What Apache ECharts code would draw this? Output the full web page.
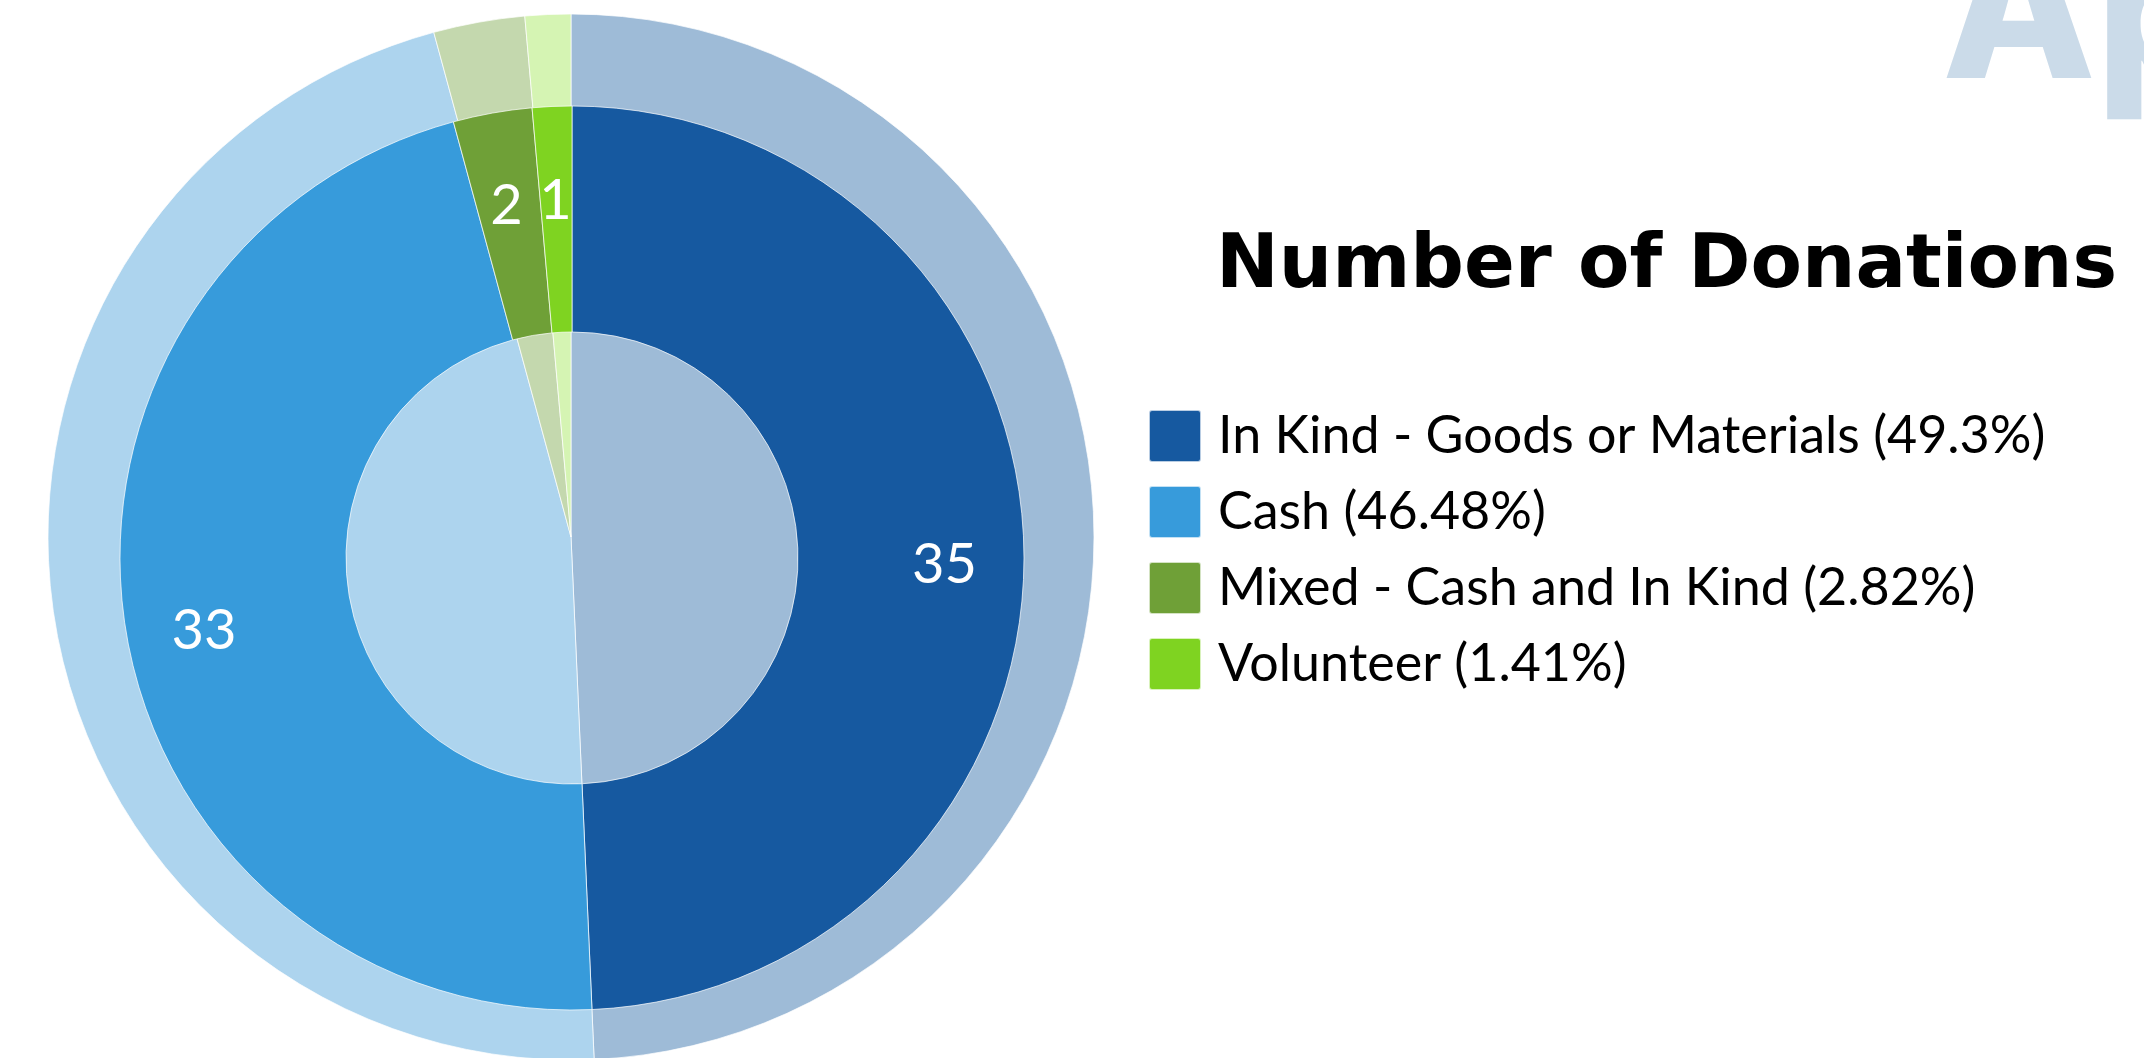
<!DOCTYPE html>
<html>
<head>
<meta charset="utf-8">
<title>Number of Donations</title>
<script src="https://cdn.jsdelivr.net/npm/echarts@6/dist/echarts.min.js"></script>
<style>
  html, body { margin: 0; padding: 0; background: #fff; }
  #chart { width: 2144px; height: 1058px; }
</style>
</head>
<body>
<div id="chart"></div>
<script>
// donation types, clockwise from 12 o'clock
const categories = ['In Kind - Goods or Materials', 'Cash', 'Mixed - Cash and In Kind', 'Volunteer'];
const counts = [35, 33, 2, 1];

const darkColors = ['#1659A0', '#379BDB', '#6FA037', '#7FD321'];
const lightColors = ['#9EBBD7', '#ADD4EE', '#C4D8AE', '#D5F4B3'];

const total = counts.reduce((a, b) => a + b, 0);
const pct = (v) => Number((v / total * 100).toFixed(2));

const chart = echarts.init(document.getElementById('chart'), null, { renderer: 'canvas' });

const option = {
  backgroundColor: '#fff',
  animation: false,
  graphic: [
    // faded heading cut off by the top edge
    {
      type: 'text',
      left: 1942,
      top: -82,
      silent: true,
      style: {
        text: 'Ap',
        fill: '#CBDBE9',
        font: '800 200px Inter'
      }
    },
    {
      type: 'text',
      left: 1216,
      top: 230,
      silent: true,
      style: {
        text: 'Number of Donations',
        fill: '#000',
        font: 'bold 75px "DejaVu Sans"'
      }
    }
  ],
  legend: {
    orient: 'vertical',
    left: 1143,
    top: 404,
    icon: 'path://M3,0 H49 Q52,0 52,3 V49 Q52,52 49,52 H3 Q0,52 0,49 V3 Q0,0 3,0 Z',
    itemWidth: 52,
    itemHeight: 52,
    itemGap: 22,
    selectedMode: false,
    textStyle: {
      fontFamily: 'Lato',
      fontSize: 52,
      lineHeight: 48,
      color: '#000',
      padding: [4, 0, 0, 12]
    },
    data: categories.map((name, i) => ({ name: name, itemStyle: { color: darkColors[i] } })),
    formatter: (name) => {
      const i = categories.indexOf(name);
      return name + ' (' + pct(counts[i]) + '%)';
    }
  },
  series: [
    // pale full pie underneath
    {
      type: 'pie',
      z: 1,
      silent: true,
      center: [571, 537],
      radius: 523,
      startAngle: 90,
      label: { show: false },
      labelLine: { show: false },
      itemStyle: { borderColor: 'rgba(255,255,255,0.7)', borderWidth: 1 },
      data: categories.map((name, i) => ({
        name: name,
        value: counts[i],
        itemStyle: { color: lightColors[i] }
      }))
    },
    // main donut ring
    {
      type: 'pie',
      z: 2,
      silent: true,
      center: [572, 558],
      radius: [226, 452],
      startAngle: 90,
      label: { show: false },
      labelLine: { show: false },
      itemStyle: { borderColor: 'rgba(255,255,255,0.7)', borderWidth: 1 },
      data: categories.map((name, i) => ({
        name: name,
        value: counts[i],
        itemStyle: { color: darkColors[i] }
      }))
    },
    // count labels, sitting a bit outside and below the ring middle
    {
      type: 'pie',
      z: 3,
      silent: true,
      center: [572, 573],
      radius: [287, 452],
      startAngle: 90,
      itemStyle: { color: 'rgba(0,0,0,0)' },
      label: {
        show: true,
        position: 'inside',
        formatter: '{c}',
        color: '#fff',
        fontFamily: 'Lato',
        fontSize: 56
      },
      labelLine: { show: false },
      data: categories.map((name, i) => ({ name: name, value: counts[i] }))
    }
  ]
};

chart.setOption(option);
</script>
</body>
</html>
